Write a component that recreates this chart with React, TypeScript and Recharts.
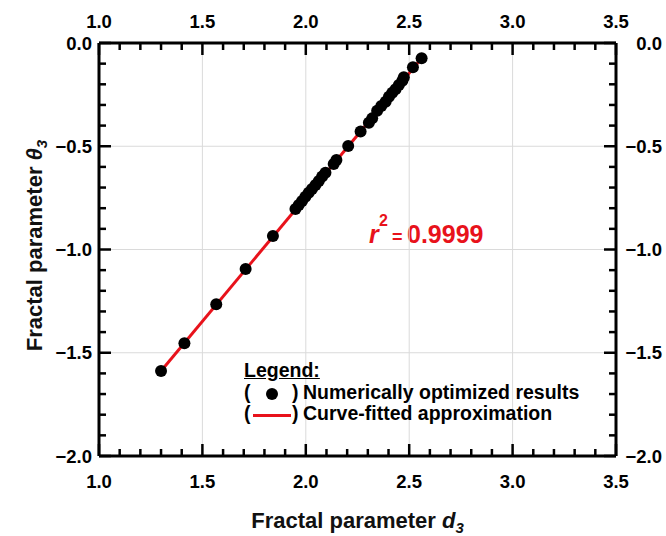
import React from "react";
import {
  ScatterChart,
  Scatter,
  XAxis,
  YAxis,
  ReferenceLine,
  Legend,
  Customized,
} from "recharts";

// numerically optimized results (d3, theta3)
const optD3 = [
  1.3, 1.413, 1.567, 1.709, 1.841, 1.95, 1.966, 1.982, 1.998, 2.014, 2.03,
  2.047, 2.063, 2.079, 2.095, 2.135, 2.148, 2.205, 2.265, 2.305, 2.321, 2.345,
  2.365, 2.386, 2.402, 2.418, 2.434, 2.45, 2.467, 2.474, 2.518, 2.56,
];
const optTheta3 = [
  -1.588, -1.454, -1.265, -1.094, -0.935, -0.804, -0.785, -0.765, -0.744,
  -0.725, -0.707, -0.688, -0.668, -0.647, -0.628, -0.586, -0.567, -0.499,
  -0.429, -0.386, -0.365, -0.328, -0.305, -0.284, -0.26, -0.241, -0.224,
  -0.203, -0.183, -0.166, -0.118, -0.074,
];

// curve-fitted approximation
const fitD3 = [1.3, 2.56];
const fitTheta3 = [-1.588, -0.074];

const xTicks = [
  1.0, 1.1, 1.2, 1.3, 1.4, 1.5, 1.6, 1.7, 1.8, 1.9, 2.0, 2.1, 2.2, 2.3, 2.4,
  2.5, 2.6, 2.7, 2.8, 2.9, 3.0, 3.1, 3.2, 3.3, 3.4, 3.5,
];
const yTicks = [
  -2.0, -1.9, -1.8, -1.7, -1.6, -1.5, -1.4, -1.3, -1.2, -1.1, -1.0, -0.9,
  -0.8, -0.7, -0.6, -0.5, -0.4, -0.3, -0.2, -0.1, 0.0,
];
const xGrid = [1.5, 2.0, 2.5, 3.0];
const yGrid = [-1.5, -1.0, -0.5];

const r2Label = "0.9999";

const FONT = '"Liberation Sans", Arial, sans-serif';
const RED = "#e8121b";
const MAJOR = 12;
const MINOR = 7;

const isMajor = (v: number) => Math.abs(v * 2 - Math.round(v * 2)) < 1e-6;
const fmt = (v: number) => (v < 0 ? "\u2212" + Math.abs(v).toFixed(1) : v.toFixed(1));

const optData = optD3.map((d, i) => ({ d3: d, theta3: optTheta3[i] }));
const fitData = fitD3.map((d, i) => ({ d3: d, theta3: fitTheta3[i] }));

const tickText = { fontFamily: FONT, fontWeight: 700, fontSize: 18.5, fill: "#000" };

function BottomTick({ x, y, payload }: any) {
  const major = isMajor(payload.value);
  return (
    <g>
      <line x1={x} x2={x} y1={y} y2={y - (major ? MAJOR : MINOR)} stroke="#000" strokeWidth={2.5} />
      {major && (
        <text x={x} y={y + 32} textAnchor="middle" {...tickText}>
          {fmt(payload.value)}
        </text>
      )}
    </g>
  );
}

function TopTick({ x, y, payload }: any) {
  const major = isMajor(payload.value);
  return (
    <g>
      <line x1={x} x2={x} y1={y} y2={y + (major ? MAJOR : MINOR)} stroke="#000" strokeWidth={2.5} />
      {major && (
        <text x={x} y={y - 15} textAnchor="middle" {...tickText}>
          {fmt(payload.value)}
        </text>
      )}
    </g>
  );
}

function LeftTick({ x, y, payload }: any) {
  const major = isMajor(payload.value);
  return (
    <g>
      <line x1={x} x2={x + (major ? MAJOR : MINOR)} y1={y} y2={y} stroke="#000" strokeWidth={2.5} />
      {major && (
        <text x={x - 7} y={y + 6.5} textAnchor="end" {...tickText}>
          {fmt(payload.value)}
        </text>
      )}
    </g>
  );
}

function RightTick({ x, y, payload }: any) {
  const major = isMajor(payload.value);
  return (
    <g>
      <line x1={x} x2={x - (major ? MAJOR : MINOR)} y1={y} y2={y} stroke="#000" strokeWidth={2.5} />
      {major && (
        <text x={x + 46} y={y + 6.5} textAnchor="end" {...tickText}>
          {fmt(payload.value)}
        </text>
      )}
    </g>
  );
}

function XTitle({ viewBox }: any) {
  const cx = viewBox.x + viewBox.width / 2;
  return (
    <text x={cx} y={viewBox.y + 72} textAnchor="middle" fontFamily={FONT} fontWeight={700} fontSize={22} fill="#111">
      Fractal parameter <tspan fontStyle="italic">d</tspan>
      <tspan fontSize={15} dy={5} fontStyle="italic">3</tspan>
    </text>
  );
}

function YTitle({ viewBox }: any) {
  const bx = 42;
  const cy = viewBox.y + viewBox.height / 2 - 4;
  return (
    <text
      x={bx}
      y={cy}
      transform={`rotate(-90 ${bx} ${cy})`}
      textAnchor="middle"
      fontFamily={FONT}
      fontWeight={700}
      fontSize={22}
      fill="#111"
    >
      Fractal parameter <tspan fontStyle="italic">θ</tspan>
      <tspan fontSize={15} dy={5} fontStyle="italic">3</tspan>
    </text>
  );
}

function R2Note() {
  return (
    <g fontFamily={FONT} fontWeight={700} fill={RED}>
      <text x={369} y={243} fontSize={25} fontStyle="italic">r</text>
      <text x={379} y={226} fontSize={16}>2</text>
      <text x={392} y={243} fontSize={18}>=</text>
      <text x={407} y={243} fontSize={25}>{r2Label}</text>
    </g>
  );
}

function LegendBox() {
  const row: React.CSSProperties = { position: "relative", height: 21.5 };
  const abs = (left: number): React.CSSProperties => ({ position: "absolute", left, top: 0, whiteSpace: "nowrap" });
  return (
    <div style={{ fontFamily: FONT, fontWeight: 700, fontSize: 19.5, lineHeight: "21.5px", color: "#000" }}>
      <div style={row}>
        <span style={{ ...abs(0), textDecoration: "underline" }}>Legend:</span>
      </div>
      <div style={row}>
        <span style={abs(0)}>(</span>
        <span
          style={{ ...abs(22), top: 6, width: 12, height: 12, borderRadius: "50%", background: "#000" }}
        />
        <span style={abs(48)}>)</span>
        <span style={abs(59)}>Numerically optimized results</span>
      </div>
      <div style={row}>
        <span style={abs(0)}>(</span>
        <span style={{ ...abs(9), top: 11, width: 38, height: 3, background: RED }} />
        <span style={abs(48)}>)</span>
        <span style={abs(59)}>Curve-fitted approximation</span>
      </div>
    </div>
  );
}

export default function App() {
  return (
    <div style={{ width: 666, height: 536, background: "#fff" }}>
      <style>{"body{margin:0}"}</style>
      <ScatterChart width={666} height={536} margin={{ top: 13, right: 5, bottom: 50, left: 39 }}>
        <XAxis
          xAxisId="bottom"
          type="number"
          dataKey="d3"
          orientation="bottom"
          domain={[1, 3.5]}
          allowDataOverflow
          ticks={xTicks}
          interval={0}
          height={30}
          tickSize={0}
          tickMargin={0}
          tickLine={false}
          axisLine={{ stroke: "#000", strokeWidth: 3 }}
          tick={<BottomTick />}
          label={<XTitle />}
        />
        <XAxis
          xAxisId="top"
          type="number"
          dataKey="d3"
          orientation="top"
          domain={[1, 3.5]}
          allowDataOverflow
          ticks={xTicks}
          interval={0}
          height={30}
          tickSize={0}
          tickMargin={0}
          tickLine={false}
          axisLine={{ stroke: "#000", strokeWidth: 3 }}
          tick={<TopTick />}
        />
        <YAxis
          yAxisId="left"
          type="number"
          dataKey="theta3"
          orientation="left"
          domain={[-2, 0]}
          allowDataOverflow
          ticks={yTicks}
          interval={0}
          width={60}
          tickSize={0}
          tickMargin={0}
          tickLine={false}
          axisLine={{ stroke: "#000", strokeWidth: 3 }}
          tick={<LeftTick />}
          label={<YTitle />}
        />
        <YAxis
          yAxisId="right"
          type="number"
          dataKey="theta3"
          orientation="right"
          domain={[-2, 0]}
          allowDataOverflow
          ticks={yTicks}
          interval={0}
          width={45}
          tickSize={0}
          tickMargin={0}
          tickLine={false}
          axisLine={{ stroke: "#000", strokeWidth: 3 }}
          tick={<RightTick />}
        />
        {xGrid.map((v) => (
          <ReferenceLine key={"x" + v} x={v} xAxisId="bottom" yAxisId="left" stroke="#dadada" strokeWidth={1} />
        ))}
        {yGrid.map((v) => (
          <ReferenceLine key={"y" + v} y={v} xAxisId="bottom" yAxisId="left" stroke="#dadada" strokeWidth={1} />
        ))}
        <Scatter
          name="Curve-fitted approximation"
          data={fitData}
          xAxisId="top"
          yAxisId="right"
          line={{ stroke: RED, strokeWidth: 3 }}
          lineType="joint"
          shape={() => <g />}
          isAnimationActive={false}
        />
        <Scatter
          name="Numerically optimized results"
          data={optData}
          xAxisId="bottom"
          yAxisId="left"
          fill="#000"
          shape={(p: any) => <circle cx={p.cx} cy={p.cy} r={6} fill="#000" />}
          isAnimationActive={false}
        />
        <Customized component={<R2Note />} />
        <Legend
          layout="horizontal"
          verticalAlign="middle"
          align="center"
          content={<LegendBox />}
          wrapperStyle={{ left: 244, top: 360, width: 400, height: 66 }}
        />
      </ScatterChart>
    </div>
  );
}
